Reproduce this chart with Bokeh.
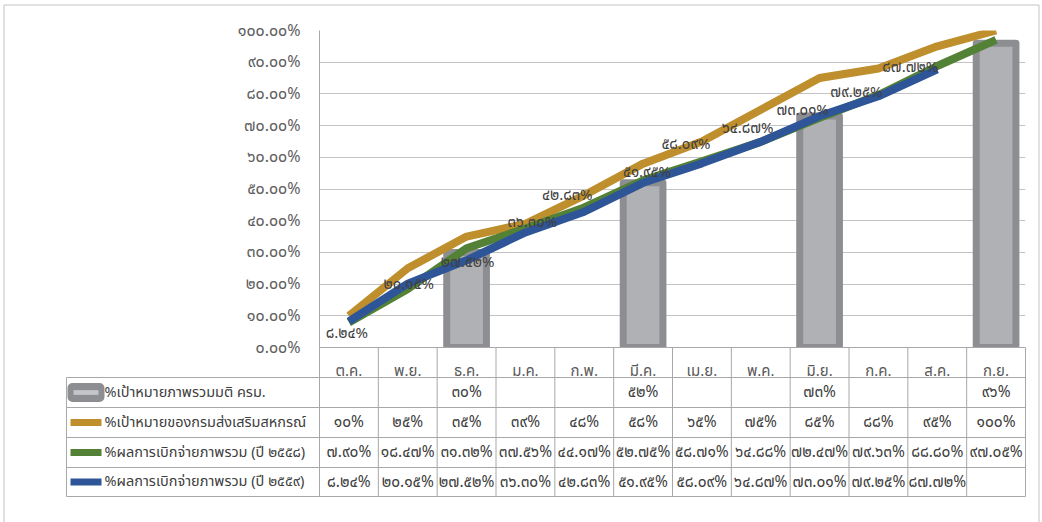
from bokeh.plotting import figure
from bokeh.models import FactorRange, Range1d, FixedTicker, ColumnDataSource
from bokeh.core.properties import value
from bokeh.embed import file_html
from bokeh.resources import INLINE

# ---------------- data ----------------
months = ["ต.ค.", "พ.ย.", "ธ.ค.", "ม.ค.", "ก.พ.", "มี.ค.", "เม.ย.", "พ.ค.", "มิ.ย.", "ก.ค.", "ส.ค.", "ก.ย."]
series_names = [
    "%เป้าหมายภาพรวมมติ ครม.",
    "%เป้าหมายของกรมส่งเสริมสหกรณ์",
    "%ผลการเบิกจ่ายภาพรวม (ปี ๒๕๕๘)",
    "%ผลการเบิกจ่ายภาพรวม (ปี ๒๕๕๙)",
]
cabinet_months = ["ธ.ค.", "มี.ค.", "มิ.ย.", "ก.ย."]
cabinet_target = [30, 52, 73, 96]
dept_target = [10, 25, 35, 39, 48, 58, 65, 75, 85, 88, 95, 100]
result_2558 = [7.90, 18.47, 31.32, 37.56, 44.17, 52.75, 58.71, 64.88, 72.47, 79.63, 88.80, 97.05]
result_2559 = [8.24, 20.15, 27.52, 36.30, 42.83, 51.95, 58.09, 64.87, 73.01, 79.25, 87.72]
y_ticks = [0, 10, 20, 30, 40, 50, 60, 70, 80, 90, 100]
y_tick_labels = ["๐.๐๐%", "๑๐.๐๐%", "๒๐.๐๐%", "๓๐.๐๐%", "๔๐.๐๐%", "๕๐.๐๐%",
                 "๖๐.๐๐%", "๗๐.๐๐%", "๘๐.๐๐%", "๙๐.๐๐%", "๑๐๐.๐๐%"]

# ---------------- style ----------------
FONT = "Noto Sans Thai, Tahoma, Leelawadee UI, sans-serif"
C_BAR_FILL = "#B0B1B5"
C_BAR_LINE = "#8D8E92"
C_GOLD = "#BE8F2C"
C_GREEN = "#538135"
C_BLUE = "#2D5597"
C_GRID = "#C3C3C3"
C_TABLE = "#A8A8A8"
C_TEXT = "#404040"

# label pixel offsets (dx, dy) for the 2559 data labels
label_dx = [-2, 1, 1, 7, -17, 4, -16, -13, -17, -22, -27]
label_dy = [12, 1, 2, -10, -16, -10, -19, -13, -6, -4, -2]

W, H = 1042, 522
FL, FR, FT, FB = 319, 17, 30, 175
FW, FH = W - FL - FR, H - FT - FB
NCOL = len(months)

TH = str.maketrans("0123456789", "๐๑๒๓๔๕๖๗๘๙")


def th(v, dec):
    return (f"{v:.{dec}f}%").translate(TH)


def fx(px):  # canvas pixel -> data x
    return (px - FL) / FW * NCOL


def fy(py):  # canvas pixel -> data y
    return (FT + FH - py) / FH * 100


p = figure(width=W, height=H, x_range=FactorRange(*months), y_range=Range1d(0, 100),
           min_border_left=FL, min_border_right=FR, min_border_top=FT, min_border_bottom=FB,
           output_backend="svg", toolbar_location=None)
p.outline_line_color = None
p.background_fill_color = "white"
p.border_fill_color = "white"
p.xgrid.grid_line_color = None
p.ygrid.grid_line_color = C_GRID
p.ygrid.ticker = FixedTicker(ticks=y_ticks)

p.yaxis.ticker = FixedTicker(ticks=y_ticks)
p.yaxis.major_label_overrides = {t: l for t, l in zip(y_ticks, y_tick_labels)}
p.yaxis.axis_line_color = C_TABLE
p.yaxis.major_tick_line_color = None
p.yaxis.minor_tick_line_color = None
p.yaxis.major_label_standoff = 13
p.yaxis.major_label_text_font = FONT
p.yaxis.major_label_text_font_size = "16px"
p.yaxis.major_label_text_color = "#606060"

p.xaxis.axis_line_color = C_TABLE
p.xaxis.major_tick_line_color = None
p.xaxis.minor_tick_line_color = None
p.xaxis.major_label_standoff = 6
p.xaxis.major_label_text_font = FONT
p.xaxis.major_label_text_font_size = "15px"
p.xaxis.major_label_text_color = "#595959"

# bars
p.vbar(x=cabinet_months, top=cabinet_target, width=0.675, fill_color=C_BAR_FILL,
       line_color=C_BAR_LINE, line_width=7, line_join="round")
# lines
p.line(months, dept_target, line_color=C_GOLD, line_width=8, line_join="round")
p.line(months, result_2558, line_color=C_GREEN, line_width=8, line_join="round")
p.line(months[:len(result_2559)], result_2559, line_color=C_BLUE, line_width=8, line_join="round")

# data labels
lab = ColumnDataSource(dict(x=months[:len(result_2559)], y=result_2559,
                            t=[th(v, 2) for v in result_2559], dx=label_dx, dy=label_dy))
p.text(x="x", y="y", text="t", x_offset="dx", y_offset="dy", source=lab,
       text_font=value(FONT), text_font_size="15px", text_color=C_TEXT,
       text_align="center", text_baseline="middle")

# ---------------- data table (below plot) ----------------
row_px = [377, 407, 437, 467, 496]
rows_y = [fy(r) for r in row_px]
tab_left = fx(66)
seg_x0, seg_y0, seg_x1, seg_y1 = [], [], [], []
for yy in rows_y:
    seg_x0.append(tab_left); seg_x1.append(NCOL); seg_y0.append(yy); seg_y1.append(yy)
for i in range(NCOL + 1):
    seg_x0.append(i); seg_x1.append(i); seg_y0.append(0); seg_y1.append(rows_y[-1])
seg_x0.append(tab_left); seg_x1.append(tab_left); seg_y0.append(rows_y[0]); seg_y1.append(rows_y[-1])
p.segment(seg_x0, seg_y0, seg_x1, seg_y1, line_color=C_TABLE, line_width=1, level="overlay")

row_centers = [(rows_y[k] + rows_y[k + 1]) / 2 for k in range(4)]
table_rows = [
    [th(cabinet_target[cabinet_months.index(m)], 0) if m in cabinet_months else "" for m in months],
    [th(v, 0) for v in dept_target],
    [th(v, 2) for v in result_2558],
    [th(v, 2) for v in result_2559] + [""] * (NCOL - len(result_2559)),
]
tx, ty, tt = [], [], []
for k, row in enumerate(table_rows):
    for i, s in enumerate(row):
        if s:
            tx.append(i + 0.5); ty.append(row_centers[k]); tt.append(s)
p.text(tx, ty, text=tt, text_font=value(FONT), text_font_size="15.5px", text_color=C_TEXT,
       text_align="center", text_baseline="middle", level="overlay")

# legend keys + names
p.text([fx(104)] * 4, row_centers, text=series_names, text_font=value(FONT), text_font_size="14.5px",
       text_color=C_TEXT, text_align="left", text_baseline="middle", level="overlay")
key_h = (fy(0) - fy(19)) / 2
p.quad(left=[fx(67)], right=[fx(104)], top=[row_centers[0] + key_h], bottom=[row_centers[0] - key_h],
       fill_color=C_BAR_LINE, line_color=None, border_radius=5, level="overlay")
p.quad(left=[fx(73)], right=[fx(98)], top=[row_centers[0] + key_h * 0.25], bottom=[row_centers[0] - key_h * 0.25],
       fill_color="#C4C5C8", line_color=None, level="overlay")
p.segment([fx(70)] * 3, row_centers[1:], [fx(101)] * 3, row_centers[1:],
          line_color=[C_GOLD, C_GREEN, C_BLUE], line_width=7, level="overlay")

# outer chart border
p.segment([fx(3.5), fx(3.5), fx(1038.5)], [fy(4.5), fy(4.5), fy(4.5)],
          [fx(1038.5), fx(3.5), fx(1038.5)], [fy(4.5), fy(H), fy(H)],
          line_color=C_GRID, line_width=1, level="overlay")

open("out.html", "w").write(file_html(p, INLINE))
